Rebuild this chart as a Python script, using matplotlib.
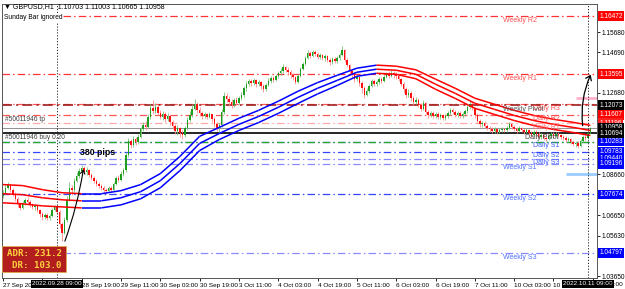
import numpy as np
import matplotlib
matplotlib.use("Agg")
import matplotlib.pyplot as plt
from matplotlib.patches import Rectangle, FancyArrowPatch
from matplotlib.collections import LineCollection
from matplotlib import transforms

plt.rcParams['font.family'] = ['Liberation Sans', 'DejaVu Sans']

# GBPUSD H1, first bar = 27 Sep 2022 11:00 (weekend hours skipped)
open0 = 1.0760
close = [
    1.0775, 1.0800, 1.0815, 1.0790, 1.0770, 1.0745, 1.0720, 1.0700,
    1.0725, 1.0740, 1.0730, 1.0715, 1.0705, 1.0710, 1.0690, 1.0670,
    1.0655, 1.0665, 1.0650, 1.0660, 1.0690, 1.0705, 1.0680, 1.0620,
    1.0575, 1.0640, 1.0740, 1.0800, 1.0790, 1.0835, 1.0860, 1.0885,
    1.0900, 1.0880, 1.0890, 1.0865, 1.0850, 1.0835, 1.0820, 1.0810,
    1.0800, 1.0790, 1.0785, 1.0800, 1.0790, 1.0820, 1.0850, 1.0840,
    1.0870, 1.0890, 1.0960, 1.1030, 1.1010, 1.1040, 1.1025, 1.1050,
    1.1090, 1.1110, 1.1100, 1.1150, 1.1195, 1.1180, 1.1200, 1.1170,
    1.1150, 1.1165, 1.1140, 1.1155, 1.1125, 1.1105, 1.1080, 1.1095,
    1.1070, 1.1060, 1.1095, 1.1135, 1.1160, 1.1190, 1.1215, 1.1185,
    1.1170, 1.1155, 1.1165, 1.1150, 1.1165, 1.1140, 1.1115, 1.1095,
    1.1110, 1.1175, 1.1255, 1.1240, 1.1225, 1.1210, 1.1235, 1.1220,
    1.1245, 1.1260, 1.1290, 1.1310, 1.1325, 1.1315, 1.1330, 1.1310,
    1.1320, 1.1300, 1.1285, 1.1305, 1.1325, 1.1340, 1.1330, 1.1350,
    1.1365, 1.1375, 1.1395, 1.1380, 1.1370, 1.1355, 1.1345, 1.1320,
    1.1350, 1.1385, 1.1410, 1.1440, 1.1465, 1.1450, 1.1470, 1.1460,
    1.1445, 1.1455, 1.1440, 1.1450, 1.1430, 1.1420, 1.1435, 1.1425,
    1.1440, 1.1455, 1.1480, 1.1430, 1.1405, 1.1375, 1.1360, 1.1335,
    1.1345, 1.1315, 1.1290, 1.1260, 1.1280, 1.1300, 1.1325, 1.1310,
    1.1320, 1.1335, 1.1325, 1.1345, 1.1360, 1.1350, 1.1365, 1.1355,
    1.1350, 1.1335, 1.1310, 1.1285, 1.1260, 1.1270, 1.1245, 1.1225,
    1.1235, 1.1210, 1.1190, 1.1220, 1.1175, 1.1160, 1.1170, 1.1155,
    1.1165, 1.1150, 1.1160, 1.1145, 1.1155, 1.1170, 1.1185, 1.1175,
    1.1160, 1.1170, 1.1155, 1.1165, 1.1180, 1.1200, 1.1215, 1.1195,
    1.1160, 1.1130, 1.1115, 1.1120, 1.1105, 1.1095, 1.1090, 1.1080,
    1.1090, 1.1075, 1.1085, 1.1090, 1.1085, 1.1095, 1.1115, 1.1100,
    1.1090, 1.1080, 1.1095, 1.1085, 1.1075, 1.1085, 1.1070, 1.1060,
    1.1075, 1.1065, 1.1050, 1.1060, 1.1045, 1.1040, 1.1055, 1.1065,
    1.1055, 1.1065, 1.1060, 1.1050, 1.1045, 1.1035, 1.1040, 1.1025,
    1.1015, 1.1020, 1.1005, 1.1030, 1.1050, 1.1045, 1.10703, 1.10958,
]
high = [
    1.0790, 1.0815, 1.0830, 1.0820, 1.0800, 1.0780, 1.0755, 1.0730,
    1.0735, 1.0750, 1.0755, 1.0740, 1.0725, 1.0720, 1.0715, 1.0695,
    1.0680, 1.0675, 1.0675, 1.0670, 1.0700, 1.0715, 1.0710, 1.0690,
    1.0630, 1.0655, 1.0760, 1.0830, 1.0815, 1.0850, 1.0880, 1.0900,
    1.0915, 1.0910, 1.0905, 1.0895, 1.0875, 1.0860, 1.0845, 1.0830,
    1.0820, 1.0810, 1.0800, 1.0810, 1.0810, 1.0830, 1.0860, 1.0865,
    1.0885, 1.0900, 1.0975, 1.1045, 1.1040, 1.1055, 1.1050, 1.1065,
    1.1100, 1.1125, 1.1130, 1.1165, 1.1215, 1.1235, 1.1220, 1.1210,
    1.1185, 1.1180, 1.1175, 1.1170, 1.1160, 1.1135, 1.1115, 1.1110,
    1.1100, 1.1085, 1.1105, 1.1150, 1.1180, 1.1215, 1.1240, 1.1225,
    1.1200, 1.1180, 1.1175, 1.1170, 1.1175, 1.1160, 1.1150, 1.1125,
    1.1120, 1.1190, 1.1275, 1.1270, 1.1255, 1.1240, 1.1245, 1.1250,
    1.1255, 1.1275, 1.1300, 1.1325, 1.1335, 1.1335, 1.1340, 1.1335,
    1.1330, 1.1325, 1.1310, 1.1315, 1.1340, 1.1350, 1.1350, 1.1360,
    1.1375, 1.1390, 1.1410, 1.1400, 1.1395, 1.1380, 1.1365, 1.1350,
    1.1360, 1.1395, 1.1420, 1.1450, 1.1480, 1.1475, 1.1480, 1.1480,
    1.1470, 1.1465, 1.1460, 1.1460, 1.1455, 1.1440, 1.1445, 1.1445,
    1.1450, 1.1465, 1.1500, 1.1485, 1.1440, 1.1410, 1.1385, 1.1370,
    1.1355, 1.1350, 1.1325, 1.1300, 1.1290, 1.1310, 1.1335, 1.1335,
    1.1330, 1.1345, 1.1345, 1.1355, 1.1370, 1.1375, 1.1380, 1.1375,
    1.1370, 1.1360, 1.1340, 1.1320, 1.1295, 1.1285, 1.1280, 1.1255,
    1.1250, 1.1245, 1.1220, 1.1235, 1.1225, 1.1185, 1.1180, 1.1180,
    1.1175, 1.1175, 1.1170, 1.1165, 1.1165, 1.1180, 1.1195, 1.1195,
    1.1185, 1.1180, 1.1180, 1.1175, 1.1190, 1.1210, 1.1235, 1.1225,
    1.1200, 1.1170, 1.1140, 1.1130, 1.1130, 1.1115, 1.1105, 1.1100,
    1.1100, 1.1095, 1.1095, 1.1100, 1.1095, 1.1105, 1.1125, 1.1120,
    1.1110, 1.1100, 1.1105, 1.1100, 1.1095, 1.1095, 1.1090, 1.1080,
    1.1085, 1.1085, 1.1075, 1.1070, 1.1065, 1.1060, 1.1065, 1.1075,
    1.1075, 1.1075, 1.1075, 1.1065, 1.1060, 1.1055, 1.1050, 1.1045,
    1.1035, 1.1030, 1.1030, 1.1040, 1.1060, 1.1065, 1.1080, 1.11003,
]
low = [
    1.0750, 1.0770, 1.0795, 1.0780, 1.0760, 1.0735, 1.0705, 1.0690,
    1.0695, 1.0715, 1.0720, 1.0705, 1.0695, 1.0690, 1.0680, 1.0655,
    1.0640, 1.0645, 1.0640, 1.0640, 1.0655, 1.0685, 1.0670, 1.0600,
    1.0540, 1.0570, 1.0630, 1.0735, 1.0765, 1.0780, 1.0830, 1.0850,
    1.0875, 1.0870, 1.0865, 1.0855, 1.0840, 1.0825, 1.0810, 1.0800,
    1.0790, 1.0775, 1.0770, 1.0780, 1.0780, 1.0785, 1.0815, 1.0830,
    1.0835, 1.0860, 1.0880, 1.0950, 1.0995, 1.1000, 1.1010, 1.1015,
    1.1045, 1.1080, 1.1085, 1.1095, 1.1140, 1.1165, 1.1170, 1.1160,
    1.1140, 1.1135, 1.1125, 1.1130, 1.1110, 1.1090, 1.1065, 1.1060,
    1.1050, 1.1040, 1.1050, 1.1085, 1.1125, 1.1150, 1.1185, 1.1170,
    1.1155, 1.1140, 1.1145, 1.1140, 1.1145, 1.1125, 1.1100, 1.1080,
    1.1070, 1.1100, 1.1165, 1.1225, 1.1205, 1.1195, 1.1200, 1.1210,
    1.1215, 1.1235, 1.1250, 1.1280, 1.1300, 1.1300, 1.1305, 1.1295,
    1.1300, 1.1285, 1.1275, 1.1280, 1.1300, 1.1315, 1.1320, 1.1325,
    1.1340, 1.1355, 1.1365, 1.1370, 1.1355, 1.1340, 1.1330, 1.1310,
    1.1315, 1.1345, 1.1380, 1.1405, 1.1435, 1.1440, 1.1445, 1.1450,
    1.1435, 1.1435, 1.1430, 1.1425, 1.1420, 1.1405, 1.1410, 1.1415,
    1.1415, 1.1430, 1.1450, 1.1420, 1.1395, 1.1360, 1.1345, 1.1320,
    1.1325, 1.1300, 1.1270, 1.1245, 1.1255, 1.1270, 1.1295, 1.1300,
    1.1300, 1.1310, 1.1315, 1.1320, 1.1340, 1.1340, 1.1345, 1.1340,
    1.1335, 1.1325, 1.1300, 1.1270, 1.1245, 1.1250, 1.1230, 1.1210,
    1.1215, 1.1200, 1.1180, 1.1185, 1.1165, 1.1145, 1.1150, 1.1145,
    1.1145, 1.1140, 1.1140, 1.1135, 1.1135, 1.1145, 1.1160, 1.1165,
    1.1150, 1.1150, 1.1145, 1.1145, 1.1155, 1.1170, 1.1190, 1.1185,
    1.1145, 1.1120, 1.1100, 1.1100, 1.1095, 1.1085, 1.1075, 1.1070,
    1.1070, 1.1065, 1.1070, 1.1075, 1.1075, 1.1075, 1.1090, 1.1090,
    1.1080, 1.1070, 1.1075, 1.1075, 1.1065, 1.1070, 1.1060, 1.1050,
    1.1055, 1.1055, 1.1040, 1.1040, 1.1035, 1.1030, 1.1035, 1.1045,
    1.1045, 1.1050, 1.1050, 1.1040, 1.1035, 1.1025, 1.1025, 1.1015,
    1.1005, 1.1000, 1.0995, 1.1000, 1.1025, 1.1035, 1.1040, 1.10665,
]

# time axis, one label every 16 bars ("" / partial = hidden behind the crosshair boxes)
time_labels = ["27 Sep 2022", "", "28 Sep 19:00", "29 Sep 11:00",
               "30 Sep 03:00", "30 Sep 19:00", "3 Oct 11:00", "4 Oct 03:00",
               "4 Oct 19:00", "5 Oct 11:00", "6 Oct 03:00", "6 Oct 19:00",
               "7 Oct 11:00", "10 Oct 03:00", "10 O", ""]
last_label_tail = "11:00"
label_step = 16

# moving average band (middle line + half width), every 8 bars
band_bars = list(range(0, 233, 8)) + [239]
band_mid = [1.0771, 1.0766, 1.0751, 1.0741, 1.0736, 1.0736, 1.0751, 1.0781,
            1.0835, 1.0920, 1.1019, 1.1068, 1.1113, 1.1152, 1.1197, 1.1246,
            1.1291, 1.1330, 1.1370, 1.1385, 1.1380, 1.1360, 1.1311, 1.1266,
            1.1217, 1.1187, 1.1157, 1.1132, 1.1113, 1.1098, 1.1083]
band_half = [0.0045, 0.0045, 0.0040, 0.0035, 0.0035, 0.0035, 0.0035, 0.0035,
             0.0035, 0.0035, 0.0035, 0.0030, 0.0030, 0.0030, 0.0030, 0.0030,
             0.0028, 0.0025, 0.0020, 0.0020, 0.0020, 0.0022, 0.0025, 0.0025,
             0.0025, 0.0025, 0.0025, 0.0025, 0.0025, 0.0025, 0.0025]

price_ticks = [1.03650, 1.05630, 1.06650, 1.08660, 1.12680, 1.14690, 1.15680]

# pivot levels
level_names = ["Weekly R2", "Weekly R1", "Daily R3", "Weekly Pivot", "Daily R2",
               "Daily R1", "Daily Pivot", "Daily S1", "Daily S2", "Daily S3",
               "Weekly S1", "Weekly S2", "Weekly S3"]
level_prices = [1.16472, 1.13595, 1.12110, 1.12073, 1.11607, 1.11196, 1.10694,
                1.10283, 1.09783, 1.09440, 1.09196, 1.07674, 1.04797]

bid_price = 1.10958
buy_price = 1.10240
adr_high = 1.12450
adr_low = 1.08700
cross_bars = [22, 238]
cross_labels = ["2022.09.28 09:00", "2022.10.11 09:00"]
adr_value = 231.2
dr_value = 103.0
header = "\u25BC GBPUSD,H1  1.10703 1.11003 1.10665 1.10958"

# styles: line colour, line style, lw, text colour, box colour
RED, LRED, PINK = '#FF3333', '#FF5555', '#FFAAAA'
BLUE, LBLUE = '#3344FF', '#8888FF'
level_style = {
    "Weekly R2": (RED, 'dd', 0.9, '#FF5050', '#FF0000'),
    "Weekly R1": (RED, 'dd', 0.9, '#FF5050', '#FF0000'),
    "Daily R3": (LRED, 'dd', 0.9, '#FF5050', None),
    "Weekly Pivot": ('#A02020', 'dd', 1.2, '#555555', '#000000'),
    "Daily R2": (LRED, 'dd', 0.9, '#FF5050', '#FF0000'),
    "Daily R1": (PINK, 'dd', 0.9, '#FF7070', '#FF2020'),
    "Daily Pivot": ('#000000', '-', 1.2, '#404040', '#000000'),
    "Daily S1": (BLUE, 'dd', 0.9, '#4060FF', '#0000FF'),
    "Daily S2": (BLUE, 'dd', 0.9, '#4060FF', '#0000FF'),
    "Daily S3": (LBLUE, 'dd', 0.9, '#4060FF', '#0000FF'),
    "Weekly S1": (LBLUE, 'dd', 0.9, '#5070FF', '#0000FF'),
    "Weekly S2": (BLUE, 'dd', 0.9, '#5070FF', '#0000FF'),
    "Weekly S3": (LBLUE, 'dd', 0.9, '#5070FF', '#0000FF'),
}
DD = (0, (6, 2.5, 1.2, 2.5))

W, H = 625, 289
fig = plt.figure(figsize=(W / 100, H / 100), dpi=100)
ax = fig.add_axes([2 / W, 11 / H, 595 / W, 274 / H])

n = len(close)
x = np.arange(n)
c = np.array(close)
o = np.concatenate([[open0], c[:-1]])
h = np.maximum(np.array(high), np.maximum(o, c))
l = np.minimum(np.array(low), np.minimum(o, c))
up = c >= o

# level lines
for name, p in zip(level_names, level_prices):
    col, ls, lw, tcol, bcol = level_style[name]
    ax.axhline(p, color=col, lw=lw, ls=DD if ls == 'dd' else ls, zorder=1)
ax.axhline(bid_price, color='#909090', lw=0.7, zorder=1)
ax.axhline(buy_price, color='#22AA22', lw=0.9, ls=DD, zorder=1)
ax.plot([233, n + 3], [adr_high, adr_high], color='#FFB0CC', lw=2, zorder=1, solid_capstyle='butt')
ax.plot([229, n + 3], [adr_low, adr_low], color='#99CCFF', lw=2, zorder=1, solid_capstyle='butt')

# band (each line coloured by slope)
bx = np.array(band_bars, dtype=float)
mid = np.array(band_mid)
half = np.array(band_half)
for yline in (mid + half, mid, mid - half):
    segs = [[(bx[i], yline[i]), (bx[i + 1], yline[i + 1])] for i in range(len(bx) - 1)]
    cols = ['#0000FF' if yline[i + 1] >= yline[i] else '#FF0000' for i in range(len(bx) - 1)]
    ax.add_collection(LineCollection(segs, colors=cols, linewidths=1.1, zorder=3))

# candles
wick_col = np.where(up, '#7CC47C', '#FF8C8C')
body_col = np.where(up, '#1E9E1E', '#FF1010')
ax.vlines(x, l, h, colors=wick_col, lw=0.6, zorder=2)
body_h = np.maximum(np.abs(c - o), 0.00012)
ax.bar(x, body_h, bottom=np.minimum(o, c), width=0.6, color=body_col, lw=0, zorder=2)

# crosshair lines
for b in cross_bars:
    ax.axvline(b, color='#202020', lw=0.7, ls=(0, (1.2, 1.8)), zorder=4)

# level labels
for name, p in zip(level_names, level_prices):
    col, ls, lw, tcol, bcol = level_style[name]
    xb = 203.5 if name.startswith("Weekly") else 215.5
    if name == "Daily Pivot":
        xb = 212.5
    ax.text(xb, p - 0.0021, name, color=tcol, fontsize=5, va='center', ha='left', zorder=5)

ax.text(1, 1.11373, "#50011946 tp", color='#404040', fontsize=4.8, va='center', zorder=5)
ax.text(1, 1.10483, "#50011946 buy 0.20", color='#404040', fontsize=4.8, va='center', zorder=5)
ax.text(31.3, 1.0974, "380 pips", fontsize=6.3, fontweight='bold', va='center', zorder=5)

# arrows
ax.add_patch(FancyArrowPatch((24.8, 1.0524), (32.9, 1.0905), arrowstyle='->,head_length=2.5,head_width=1.6',
                             connectionstyle='arc3,rad=0.05', color='black', lw=0.8, zorder=6))
ax.add_patch(FancyArrowPatch((236.0, 1.1093), (239.6, 1.1370), arrowstyle='->,head_length=3,head_width=2.2',
                             connectionstyle='arc3,rad=-0.15', color='black', lw=0.9, zorder=6, clip_on=False))

ax.set_xlim(-0.4, 241.7)
ax.set_ylim(1.03553, 1.17066)

# axes look
for s in ax.spines.values():
    s.set_color('#555555')
    s.set_linewidth(0.7)
ax.yaxis.tick_right()
ax.set_yticks(price_ticks)
ax.set_yticklabels([f"{p:.5f}" for p in price_ticks])
ax.tick_params(axis='y', length=2, width=0.6, pad=1.5, labelsize=4.7)
ax.set_xticks([i * label_step for i in range(len(time_labels))])
ax.set_xticklabels(time_labels)
for lbl in ax.get_xticklabels():
    lbl.set_ha('left')
ax.tick_params(axis='x', length=2, width=0.6, pad=1.5, labelsize=4.6)
fig.text(623 / W, 1 - 284 / H, last_label_tail, fontsize=4.6, ha='right', va='center')

# price boxes on the right axis
ytr = transforms.blended_transform_factory(ax.transAxes, ax.transData)
boxes = [(p, level_style[nm][4]) for nm, p in zip(level_names, level_prices) if level_style[nm][4]]
boxes.append((bid_price, '#000000'))
boxes.sort(key=lambda t: t[0] == level_prices[level_names.index("Daily Pivot")])
for k, (p, bc) in enumerate(boxes):
    ax.text(1.004, p, f"{p:.5f}", transform=ytr, color='white', fontsize=4.7, va='center', ha='left',
            bbox=dict(boxstyle='square,pad=0.22', fc=bc, ec='none'), clip_on=False, zorder=10 + k)

# crosshair time boxes
xtr = transforms.blended_transform_factory(ax.transData, ax.transAxes)
for b, t in zip(cross_bars, cross_labels):
    ax.text(b, -0.012, t, transform=xtr, color='white', fontsize=4.6, va='top', ha='center',
            bbox=dict(boxstyle='square,pad=0.25', fc='black', ec='none'), clip_on=False, zorder=10)

# header texts
fig.text(4 / W, 1 - 7 / H, header, fontsize=5, va='center', ha='left')
fig.text(4 / W, 1 - 17.5 / H, "Sunday Bar ignored", fontsize=4.8, va='center', ha='left',
         bbox=dict(boxstyle='square,pad=0.1', fc='white', ec='none'), zorder=5)

# ADR box
fig.patches.append(Rectangle((2 / W, 1 - 272 / H), 64 / W, 26 / H, transform=fig.transFigure,
                             fc='#B21E1E', ec='#E0B040', lw=0.5, zorder=5))
fig.text(62 / W, 1 - 253 / H, f"ADR: {adr_value:.1f}", fontsize=6.6, fontweight='bold',
         family='DejaVu Sans Mono', color='#FFD23F', ha='right', va='center', zorder=6)
fig.text(62 / W, 1 - 265 / H, f"DR: {dr_value:.1f}", fontsize=6.6, fontweight='bold',
         family='DejaVu Sans Mono', color='#FFD23F', ha='right', va='center', zorder=6)

fig.savefig("out.png", dpi=100)
